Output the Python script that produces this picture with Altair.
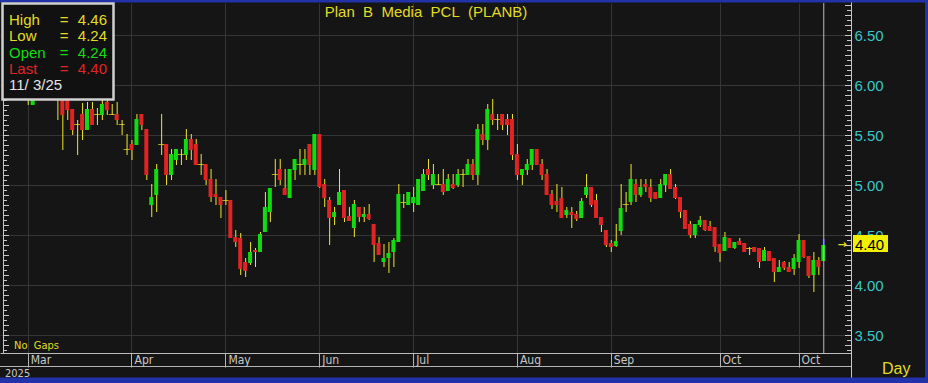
import altair as alt
import pandas as pd
import numpy as np

# ---------------- data ----------------
OPEN = [5.90,5.92,5.94,5.90,5.92,5.80,5.88,5.92,5.90,5.93,
        5.86,5.88,5.86,5.76,5.61,5.71,5.55,5.76,5.71,5.70,
        5.83,5.71,5.71,5.61,5.36,5.41,5.40,5.71,5.56,4.80,
        4.90,5.41,5.41,5.10,5.25,5.31,5.30,5.46,5.41,5.21,
        5.21,5.06,4.91,4.88,4.85,4.85,4.48,4.47,4.23,4.22,
        4.35,4.33,4.53,4.73,5.11,5.16,4.97,4.87,5.15,5.21,
        5.20,5.41,5.15,5.51,5.01,4.85,4.68,4.80,4.95,4.69,
        4.57,4.78,4.68,4.71,4.61,4.42,4.23,4.27,4.33,4.43,
        4.83,4.80,4.82,4.80,4.94,5.16,5.00,5.01,5.01,4.94,
        5.01,5.00,5.11,5.10,5.21,5.10,5.51,5.45,5.71,5.66,
        5.71,5.66,5.66,5.31,5.10,5.15,5.20,5.36,5.21,5.11,
        4.91,4.84,4.87,4.70,4.73,4.71,4.67,4.90,4.98,4.85,
        4.68,4.55,4.42,4.39,4.54,4.81,4.83,5.01,4.90,5.01,
        4.98,4.93,4.87,5.00,5.11,4.98,4.88,4.75,4.61,4.50,
        4.60,4.65,4.59,4.58,4.41,4.34,4.47,4.37,4.44,4.42,
        4.37,4.38,4.37,4.24,4.34,4.27,4.13,4.23,4.18,4.16,
        4.23,4.45,4.29,4.10,4.25,4.24]
HIGH = [5.95,5.98,5.98,5.96,5.96,5.90,5.94,5.97,5.95,5.96,
        5.92,5.92,5.90,5.76,5.65,5.82,5.83,5.83,5.77,5.85,
        5.85,5.81,5.83,5.65,5.51,5.45,5.71,5.71,5.56,5.01,
        5.21,5.71,5.41,5.36,5.36,5.36,5.56,5.51,5.46,5.31,
        5.21,5.16,5.06,4.88,4.95,4.85,4.55,4.52,4.27,4.43,
        4.37,4.53,4.93,4.97,5.26,5.26,5.16,5.16,5.26,5.36,
        5.36,5.41,5.51,5.51,5.06,4.88,4.78,5.16,4.95,4.78,
        4.85,4.78,4.78,4.81,4.61,4.48,4.41,4.43,4.47,5.01,
        4.91,4.93,4.98,5.06,5.16,5.26,5.21,5.11,5.16,5.11,
        5.11,5.16,5.16,5.26,5.26,5.61,5.61,5.81,5.86,5.71,
        5.71,5.71,5.71,5.41,5.16,5.26,5.36,5.36,5.26,5.16,
        4.95,5.01,4.98,4.78,4.78,4.74,4.87,5.11,4.98,4.91,
        4.68,4.55,4.45,4.61,5.01,4.93,5.21,5.06,5.06,5.06,
        5.06,4.93,5.06,5.11,5.16,5.01,4.88,4.75,4.64,4.61,
        4.69,4.65,4.64,4.58,4.41,4.53,4.47,4.43,4.47,4.42,
        4.38,4.38,4.37,4.38,4.34,4.27,4.25,4.24,4.23,4.31,
        4.51,4.45,4.29,4.33,4.28,4.46]
LOW = [5.86,5.88,5.88,5.86,5.80,5.80,5.86,5.87,5.86,5.87,
       5.65,5.35,5.65,5.50,5.30,5.45,5.55,5.60,5.60,5.65,
       5.70,5.70,5.60,5.50,5.30,5.25,5.40,5.55,5.05,4.68,
       4.73,5.30,5.00,5.05,5.20,5.20,5.25,5.25,5.20,5.10,
       5.00,4.83,4.80,4.67,4.80,4.47,4.38,4.10,4.08,4.20,
       4.18,4.33,4.53,4.63,4.98,5.00,4.90,4.87,5.05,5.10,
       5.10,5.10,5.10,4.97,4.78,4.40,4.60,4.80,4.63,4.64,
       4.48,4.63,4.63,4.65,4.23,4.30,4.18,4.12,4.18,4.43,
       4.77,4.80,4.73,4.80,4.94,5.05,4.96,5.00,4.90,4.94,
       4.96,4.98,4.98,5.10,5.05,5.00,5.40,5.35,5.60,5.55,
       5.55,5.50,5.25,5.05,5.00,5.10,5.15,5.20,5.05,4.90,
       4.76,4.73,4.67,4.67,4.57,4.64,4.67,4.87,4.78,4.67,
       4.53,4.38,4.33,4.38,4.50,4.73,4.80,4.83,4.88,4.93,
       4.83,4.86,4.87,4.93,4.96,4.86,4.67,4.56,4.47,4.47,
       4.58,4.54,4.54,4.33,4.23,4.34,4.37,4.36,4.40,4.33,
       4.30,4.33,4.17,4.24,4.24,4.03,4.13,4.15,4.13,4.10,
       4.17,4.27,4.07,3.93,4.10,4.24]
CLOSE = [5.92,5.94,5.90,5.92,5.86,5.88,5.92,5.90,5.93,5.90,
         5.86,5.70,5.75,5.55,5.61,5.55,5.76,5.60,5.71,5.81,
         5.75,5.71,5.65,5.61,5.36,5.35,5.66,5.60,5.10,4.88,
         5.16,5.41,5.10,5.31,5.36,5.31,5.46,5.35,5.20,5.21,
         5.05,4.88,4.88,4.80,4.85,4.47,4.43,4.16,4.14,4.33,
         4.33,4.51,4.78,4.97,5.11,5.05,4.90,5.16,5.26,5.21,
         5.26,5.20,5.51,4.98,4.87,4.67,4.73,4.93,4.67,4.64,
         4.81,4.68,4.71,4.66,4.40,4.30,4.27,4.32,4.45,4.91,
         4.83,4.93,4.88,5.06,5.11,5.10,5.11,5.01,4.93,5.06,
         4.97,5.11,5.11,5.21,5.10,5.56,5.45,5.76,5.65,5.66,
         5.60,5.60,5.30,5.10,5.16,5.21,5.36,5.20,5.10,4.90,
         4.80,4.80,4.67,4.75,4.70,4.66,4.84,4.98,4.80,4.67,
         4.60,4.40,4.38,4.44,4.77,4.81,5.06,4.90,4.98,4.98,
         4.87,4.86,5.01,5.11,4.96,4.87,4.73,4.56,4.50,4.61,
         4.65,4.55,4.54,4.38,4.32,4.48,4.37,4.43,4.40,4.33,
         4.37,4.33,4.23,4.35,4.24,4.13,4.18,4.17,4.13,4.27,
         4.45,4.28,4.09,4.25,4.18,4.40]

MONTHS = ["Mar", "Apr", "May", "Jun", "Jul", "Aug", "Sep", "Oct", "Oct"]
MONTH_START = [4, 25, 44, 63, 82, 103, 122, 144, 160]
PRICE_TICKS = [3.5, 4.0, 4.5, 5.0, 5.5, 6.0, 6.5]
TITLE_WORDS = ["Plan", "B", "Media", "PCL", "(PLANB)"]
YEAR = "2025"
LAST_DATE = "11/\u00a03/25"

# ---------------- styling ----------------
BG = "#151515"
GRID = "#363636"
YELLOW = "#e2dc24"
WICK = "#f0e82c"
GREEN = "#10dc10"
RED = "#e02424"
CYAN = "#3cc6c8"
LIGHT = "#c8c8c8"
BLUE = "#2232a8"
FONT = "Liberation Sans"
NARROW = "Liberation Sans Narrow, DejaVu Sans Condensed, Liberation Sans"

W, H = 851, 350
n = len(OPEN)
df = pd.DataFrame({"i": np.arange(n), "open": OPEN, "high": HIGH,
                   "low": LOW, "close": CLOSE})
df["dir"] = np.where(df.close > df.open, "up",
                     np.where(df.close < df.open, "down", "flat"))

xscale = alt.Scale(domain=[-0.6, 169.6], nice=False, zero=False)
yscale = alt.Scale(domain=[3.32, 6.82], nice=False, zero=False)
xaxis = alt.Axis(values=MONTH_START, grid=True, gridColor=GRID, labels=False,
                 ticks=True, tickSize=14, tickColor="#b4b4b4", domain=True,
                 domainColor="#bcbcbc", title=None)
yaxis = alt.Axis(orient="right", values=PRICE_TICKS, format=".2f", grid=True,
                 gridColor=GRID, ticks=False, domain=False, labelColor=CYAN,
                 labelFont=FONT, labelFontSize=15, labelPadding=3, title=None)

X = alt.X("i:Q", scale=xscale, axis=xaxis)

def Y(f):
    return alt.Y(f"{f}:Q", scale=yscale, axis=yaxis)

def Y2(f):
    return alt.Y2(f"{f}:Q")

base = alt.Chart(df)

wicks = base.mark_rule(color=WICK, strokeWidth=1, xOffset=0.5).encode(
    x=X, y=Y("low"), y2=Y2("high"))

bodies = base.transform_filter("datum.dir != 'flat'").mark_bar(size=4).encode(
    x=X, y=Y("open"), y2=Y2("close"),
    color=alt.Color("dir:N", scale=alt.Scale(domain=["up", "down"], range=[GREEN, RED]),
                    legend=None))

dojis = base.transform_filter("datum.dir == 'flat'").mark_tick(
    orient="horizontal", size=6, thickness=1, color=WICK, yOffset=0.5).encode(
    x=X, y=Y("open"))

last = df.iloc[[-1]].copy()
last["tag_top"] = last["close"] + 0.10
last["tag_bot"] = last["close"] - 0.07
last["tag"] = last["close"].map(lambda v: f"{v:.2f}")
lastc = alt.Chart(last)

last_top = lastc.mark_rule(color="#2a2ad8", strokeWidth=2, xOffset=0.5).encode(
    x=X, y=Y("close"), y2=Y2("high"))
cursor = lastc.mark_rule(color="#bdbdbd", strokeWidth=1, xOffset=0.5).encode(
    x=X, y=alt.value(0), y2=alt.value(H))

tag_box = lastc.mark_rect(color="#f0f000").encode(
    x=alt.value(853), x2=alt.value(888), y=Y("tag_top"), y2=Y2("tag_bot"))
tag_txt = lastc.mark_text(align="left", baseline="middle", font=FONT, fontSize=15,
                          color="#000000").encode(
    x=alt.value(855), y=Y("close"), text="tag:N")
tag_arrow = lastc.mark_text(align="center", baseline="middle", font="DejaVu Sans",
                            fontSize=11, fontWeight="bold", color=YELLOW).encode(
    x=alt.value(842), y=Y("close"), text=alt.value("\u2192"))

# minor price ticks on the left and right axis lines
levels = [round(3.35 + 0.05 * j, 2) for j in range(70)]
tk = pd.DataFrame({"p": levels})
tk["major"] = [(round(v * 100) % 10 == 0) for v in levels]
tkc = alt.Chart(tk)
r_major = tkc.transform_filter("datum.major").mark_rule(color=LIGHT, yOffset=0.5).encode(
    y=Y("p"), x=alt.value(845), x2=alt.value(851))
r_minor = tkc.transform_filter("!datum.major").mark_rule(color=LIGHT, yOffset=0.5).encode(
    y=Y("p"), x=alt.value(847), x2=alt.value(851))
l_major = tkc.transform_filter("datum.major").mark_rule(color=LIGHT, yOffset=0.5).encode(
    y=Y("p"), x=alt.value(3), x2=alt.value(9))
l_minor = tkc.transform_filter("!datum.major").mark_rule(color=LIGHT, yOffset=0.5).encode(
    y=Y("p"), x=alt.value(3), x2=alt.value(7))

dummy = alt.Chart(pd.DataFrame({"a": [0]}))

def vline(x, y1, y2, color, w=1):
    return dummy.mark_rule(color=color, strokeWidth=w).encode(
        x=alt.value(x), y=alt.value(y1), y2=alt.value(y2))

def hline(y, x1, x2, color, w=1):
    return dummy.mark_rule(color=color, strokeWidth=w).encode(
        y=alt.value(y), x=alt.value(x1), x2=alt.value(x2))

def text(t, x, y, color, size, align="left", font=FONT, baseline="middle"):
    return dummy.mark_text(align=align, baseline=baseline, font=font, fontSize=size,
                           color=color).encode(
        x=alt.value(x), y=alt.value(y), text=alt.value(t))

frame = [
    vline(851.5, -3, 380, LIGHT),
    vline(3.5, 0, H, LIGHT),
    hline(363.5, 0, 851, "#b4b4b4"),
    hline(-2, 0, 928, BLUE, 3),
    vline(926.5, -3, 380, BLUE, 3),
    hline(377.5, 0, 928, BLUE, 6),
]

months_df = pd.DataFrame({"i": MONTH_START, "m": MONTHS})
month_txt = alt.Chart(months_df).mark_text(
    align="left", baseline="middle", font=NARROW, fontSize=12, color=LIGHT, dx=3).encode(
    x=X, y=alt.value(357), text="m:N")

title_str = "\u00a0\u00a0".join(TITLE_WORDS)
annots = [
    text(title_str, 426, 9, YELLOW, 15, align="center"),
    text("No\u00a0\u00a0Gaps", 14, 343, YELLOW, 11, font=NARROW),
    text(YEAR, 5, 371, LIGHT, 11, font=NARROW),
    text("Day", 882, 366, YELLOW, 16),
]

# info box (top left)
box = dummy.mark_rect(fill="#111111", stroke="#d0d0d0", strokeWidth=2.5).encode(
    x=alt.value(2.5), x2=alt.value(113.5), y=alt.value(0.5), y2=alt.value(96.5))
rows = [("High", HIGH[-1], YELLOW), ("Low", LOW[-1], YELLOW),
        ("Open", OPEN[-1], GREEN), ("Last", CLOSE[-1], RED)]
info = []
for r, (lab, val, col) in enumerate(rows):
    yy = 17 + 16.3 * r
    info.append(text(lab, 9, yy, col, 15))
    info.append(text("=", 64, yy, col, 15, align="center"))
    info.append(text(f"{val:.2f}", 107, yy, col, 15, align="right"))
info.append(text(LAST_DATE, 9, 17 + 16.3 * 4, "#e4e4e4", 15))

layers = ([wicks, bodies, dojis, last_top, cursor, r_major, r_minor, l_major, l_minor]
          + frame + [month_txt] + annots + [tag_box, tag_txt, tag_arrow, box] + info)

chart = alt.layer(*layers).properties(
    width=W, height=H,
    padding={"left": 0, "top": 3, "right": 77, "bottom": 30},
    autosize=alt.AutoSizeParams(type="none"),
    background=BG,
).configure_view(stroke=None)

chart.save("out.html", embed_options={"renderer": "svg", "actions": False})
